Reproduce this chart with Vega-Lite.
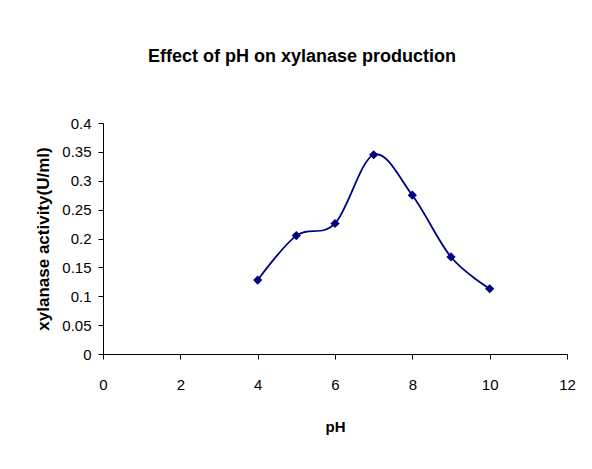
{
  "$schema": "https://vega.github.io/schema/vega-lite/v6.json",
  "width": 464,
  "height": 231,
  "autosize": {"type": "none"},
  "padding": {"left": 103, "top": 123, "right": 25, "bottom": 115},
  "background": "white",
  "title": {
    "text": "Effect of pH on xylanase production",
    "font": "Liberation Sans Narrow, Liberation Sans, Arial",
    "fontSize": 18,
    "fontWeight": "bold",
    "color": "black",
    "anchor": "middle",
    "dx": -33,
    "baseline": "alphabetic",
    "offset": 36
  },
  "config": {
    "view": {"stroke": null},
    "axis": {
      "labelFont": "Liberation Sans Narrow, Liberation Sans, Arial",
      "titleFont": "Liberation Sans Narrow, Liberation Sans, Arial",
      "labelFontSize": 15,
      "titleFontSize": 15,
      "titleFontWeight": "bold",
      "labelColor": "black",
      "titleColor": "black",
      "domainColor": "black",
      "tickColor": "black",
      "domainWidth": 1,
      "tickWidth": 1,
      "tickSize": 5,
      "grid": false
    }
  },
  "data": {
    "values": [
      {"pH": 4, "activity": 0.128},
      {"pH": 5, "activity": 0.205},
      {"pH": 6, "activity": 0.226},
      {"pH": 7, "activity": 0.345},
      {"pH": 8, "activity": 0.275},
      {"pH": 9, "activity": 0.168},
      {"pH": 10, "activity": 0.113}
    ]
  },
  "encoding": {
    "x": {
      "field": "pH",
      "type": "quantitative",
      "scale": {"domain": [0, 12], "nice": false},
      "axis": {"values": [0, 2, 4, 6, 8, 10, 12], "title": "pH", "labelPadding": 18, "titlePadding": 27, "labelFlush": false}
    },
    "y": {
      "field": "activity",
      "type": "quantitative",
      "scale": {"domain": [0, 0.4], "nice": false},
      "axis": {"values": [0, 0.05, 0.1, 0.15, 0.2, 0.25, 0.3, 0.35, 0.4], "format": "~g", "title": "xylanase activity(U/ml)", "titleFontSize": 17, "labelPadding": 7, "titlePadding": 9, "labelFlush": false}
    }
  },
  "layer": [
    {"mark": {"type": "line", "interpolate": "cardinal", "color": "#000080", "strokeWidth": 1.8}},
    {"mark": {"type": "point", "shape": "diamond", "filled": true, "color": "#000080", "size": 85, "opacity": 1}}
  ]
}
